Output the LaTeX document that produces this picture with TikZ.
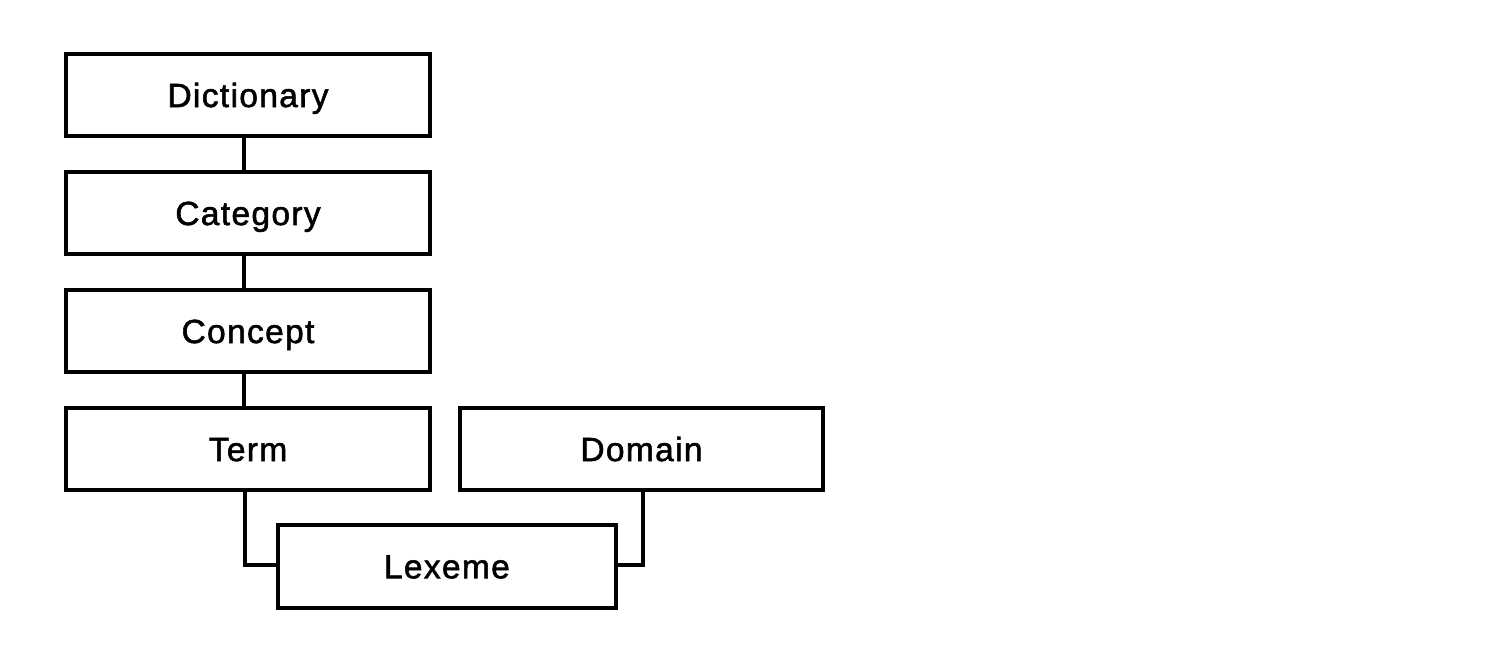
\documentclass[tikz,border=0pt]{standalone}
\usepackage{fontspec}
\setmainfont{Liberation Sans}
\newfontfamily\boxfont[LetterSpace=4,FakeBold=1.6]{Liberation Sans}
\usetikzlibrary{calc}
\begin{document}
\begin{tikzpicture}[x=1pt,y=1pt,
  box/.style={draw=black, line width=4pt, fill=white, inner sep=0pt,
    minimum width=363.4pt, minimum height=82pt,
    font=\boxfont\fontsize{33.5}{38}\selectfont, text height=23.5pt, text depth=0pt},
  link/.style={draw=black, line width=4pt}]
\useasboundingbox (0,0) rectangle (1506,660);
\node[box] (dict) at (248,564.7) {Dictionary};
\node[box] (cat) at (248,446.7) {Category};
\node[box] (conc) at (248,328.7) {Concept};
\node[box] (term) at (248,210.7) {Term};
\node[box] (dom) at (641.5,210.7) {Domain};
\node[box, minimum width=337.2pt, minimum height=83pt] (lex) at (446.9,93.5) {Lexeme};
\draw[link] ($(dict.south)+(-4.5,0)$) -- ($(cat.north)+(-4.5,0)$);
\draw[link] ($(cat.south)+(-4.5,0)$) -- ($(conc.north)+(-4.5,0)$);
\draw[link] ($(conc.south)+(-4.5,0)$) -- ($(term.north)+(-4.5,0)$);
\draw[link] ($(term.south)+(-3,0)$) |- ($(lex.west)+(0,1.8)$);
\draw[link] ($(dom.south)+(1,0)$) |- ($(lex.east)+(0,1.8)$);
\end{tikzpicture}
\end{document}
